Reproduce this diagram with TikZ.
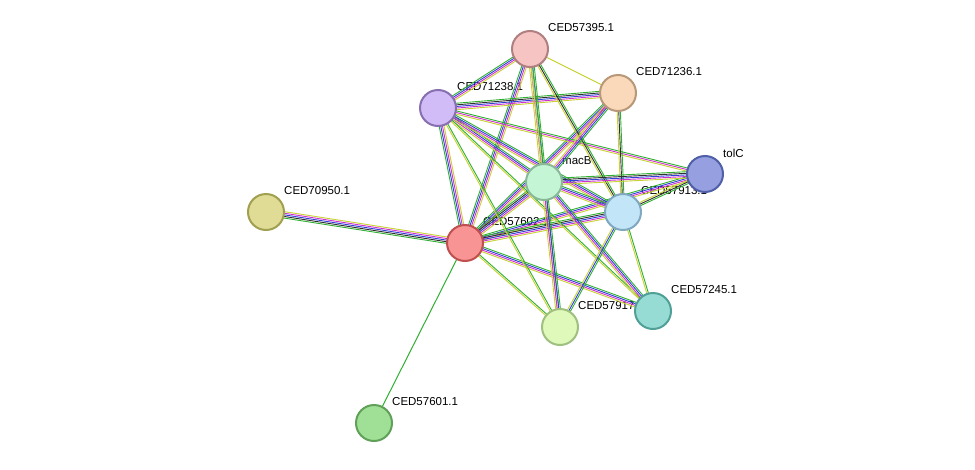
\documentclass[tikz,border=0pt]{standalone}
\usepackage{fontspec}
\setmainfont{Liberation Sans}
\usetikzlibrary{calc}
\begin{document}
\begin{tikzpicture}[x=1pt,y=-1pt]
\definecolor{cy}{HTML}{C8D232}
\definecolor{cg}{HTML}{30B030}
\definecolor{cb}{HTML}{3040D8}
\definecolor{cm}{HTML}{D030D0}
\definecolor{ck}{HTML}{303030}
\tikzset{prot/.style={circle,minimum size=36pt,inner sep=0pt,line width=2pt},
 lab/.style={anchor=west,font=\fontsize{11.5}{12}\selectfont,inner sep=0pt}}
\useasboundingbox[fill=white] (0,0) rectangle (975,469);
\coordinate (n395) at (530,49);
\coordinate (n236) at (618,93);
\coordinate (n238) at (438,108);
\coordinate (macB) at (544,182);
\coordinate (tolC) at (705,174);
\coordinate (n913) at (623,212);
\coordinate (n950) at (266,212);
\coordinate (n602) at (465,243);
\coordinate (n245) at (653,311);
\coordinate (n917) at (560,327);
\coordinate (n601) at (374,423);
% labels
\node[lab] (l395) at (548,28) {CED57395.1};
\node[lab] (l236) at (636,72) {CED71236.1};
\node[lab] (l238) at (457,87) {CED71238.1};
\node[lab] (lmac) at (562,161) {macB};
\node[lab] (ltol) at (723,153) {tolC};
\node[lab] (l913) at (641,191) {CED57913.1};
\node[lab] (l950) at (284,191) {CED70950.1};
\node[lab] (l602) at (483,222) {CED57602.1};
\node[lab] (l245) at (671,290) {CED57245.1};
\node[lab] (l917) at (578,306) {CED57917.1};
\node[lab] (l601) at (392,402) {CED57601.1};
% edges: parallel coloured lines
\newcommand{\ed}[4]{\foreach \c [count=\i] in {#4}{\pgfmathsetmacro\o{(\i-(#3+1)/2)*1.6}
 \draw[draw=c\c,line width=0.9pt] ($(#1)!\o pt!90:(#2)$) -- ($(#2)!\o pt!-90:(#1)$);}}
\ed{n602}{n950}{5}{y,m,b,k,g}
\draw[draw=cg,line width=1pt] (n602) -- (n601);
\ed{n602}{n238}{4}{y,m,b,g}
\ed{n602}{n395}{4}{y,m,b,g}
\ed{n602}{n236}{4}{y,m,b,g}
\ed{n602}{macB}{5}{y,m,b,k,g}
\ed{n602}{tolC}{4}{y,m,b,g}
\ed{n602}{n913}{5}{y,m,b,k,g}
\ed{n602}{n245}{4}{y,m,b,g}
\ed{n602}{n917}{2}{y,g}
\ed{n238}{n395}{4}{y,m,b,g}
\ed{n238}{n236}{5}{y,m,b,k,g}
\ed{n238}{macB}{4}{y,m,b,g}
\ed{n238}{tolC}{3}{y,m,g}
\ed{n238}{n913}{4}{y,m,b,g}
\ed{n238}{n917}{2}{y,g}
\ed{n238}{n245}{2}{y,g}
\ed{n395}{n236}{1}{y}
\ed{n395}{macB}{4}{y,m,b,g}
\ed{n395}{n913}{3}{y,k,g}
\ed{n395}{n917}{2}{y,g}
\ed{n236}{macB}{4}{y,m,b,g}
\ed{n236}{n913}{3}{y,k,g}
\ed{macB}{tolC}{5}{y,m,b,k,g}
\ed{macB}{n913}{4}{y,m,b,g}
\ed{macB}{n245}{4}{y,m,b,g}
\ed{macB}{n917}{4}{y,m,b,g}
\ed{tolC}{n913}{3}{y,k,g}
\ed{n913}{n917}{3}{y,b,g}
\ed{n913}{n245}{2}{y,g}
% nodes
\node[prot,fill={rgb,255:red,247;green,196;blue,196},draw={rgb,255:red,176;green,128;blue,128}] (a395) at (n395) {};
\node[prot,fill={rgb,255:red,249;green,217;blue,185},draw={rgb,255:red,184;green,152;blue,120}] (a236) at (n236) {};
\node[prot,fill={rgb,255:red,210;green,188;blue,248},draw={rgb,255:red,136;green,112;blue,176}] (a238) at (n238) {};
\node[prot,fill={rgb,255:red,196;green,245;blue,213},draw={rgb,255:red,136;green,184;blue,152}] (amac) at (macB) {};
\node[prot,fill={rgb,255:red,150;green,160;blue,224},draw={rgb,255:red,80;green,96;blue,168}] (atol) at (tolC) {};
\node[prot,fill={rgb,255:red,194;green,230;blue,248},draw={rgb,255:red,128;green,168;blue,192}] (a913) at (n913) {};
\node[prot,fill={rgb,255:red,224;green,220;blue,150},draw={rgb,255:red,160;green,160;blue,80}] (a950) at (n950) {};
\node[prot,fill={rgb,255:red,248;green,148;blue,148},draw={rgb,255:red,192;green,80;blue,80}] (a602) at (n602) {};
\node[prot,fill={rgb,255:red,150;green,220;blue,212},draw={rgb,255:red,80;green,160;blue,152}] (a245) at (n245) {};
\node[prot,fill={rgb,255:red,222;green,249;blue,185},draw={rgb,255:red,160;green,192;blue,128}] (a917) at (n917) {};
\node[prot,fill={rgb,255:red,160;green,224;blue,150},draw={rgb,255:red,96;green,160;blue,88}] (a601) at (n601) {};
\end{tikzpicture}
\end{document}
